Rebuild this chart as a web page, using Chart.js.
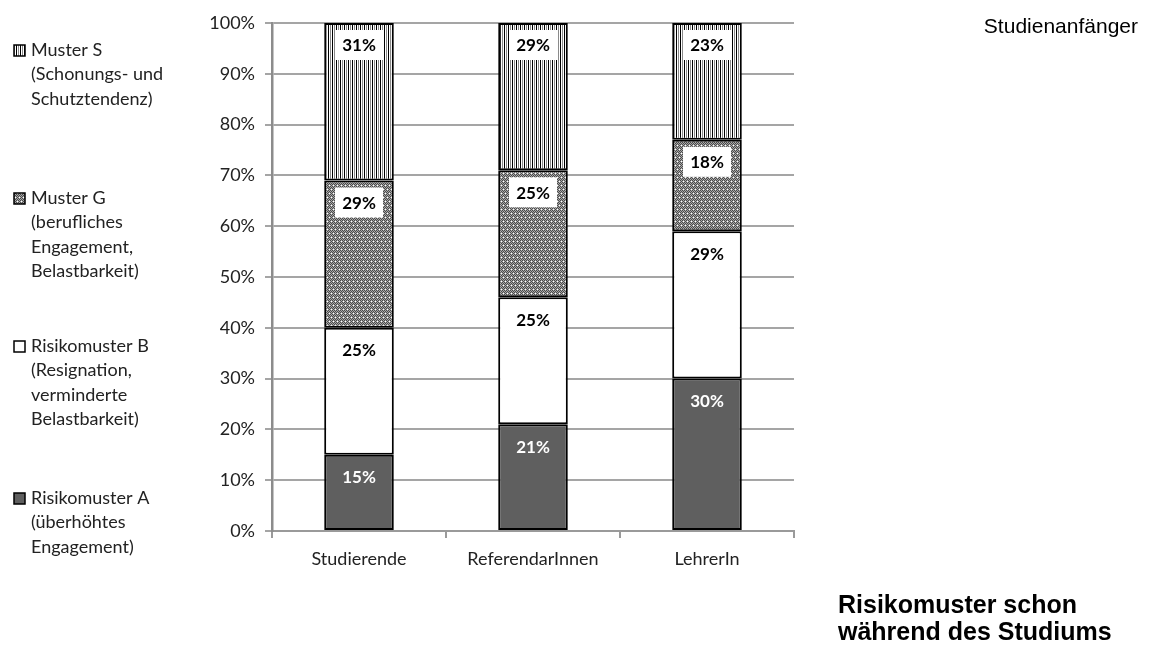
<!DOCTYPE html>
<html lang="de">
<head>
<meta charset="UTF-8">
<title>Risikomuster schon während des Studiums</title>
<script src="https://cdn.jsdelivr.net/npm/chart.js@4"></script>
<style>
    html, body { margin: 0; padding: 0; background: #fff; }
    #wrap { position: relative; width: 1155px; height: 646px; }
    canvas { display: block; }
    .note { position: absolute; font-family: "Liberation Sans", Arial, sans-serif; color: #000; white-space: nowrap; }
    #top { right: 17px; top: 14px; font-size: 21px; line-height: 24px; }
    #bottom { left: 838px; top: 591px; font-size: 25px; line-height: 27px; font-weight: bold; }
</style>
</head>
<body>
<div id="wrap">
    <canvas id="chart" width="1155" height="646"></canvas>
    <div class="note" id="top">Studienanfänger</div>
    <div class="note" id="bottom">Risikomuster schon<br>während des Studiums</div>
</div>

<script>
// Daten
const categories = ['Studierende', 'ReferendarInnen', 'LehrerIn'];
const risikoA = [15, 21, 30];
const risikoB = [25, 25, 29];
const musterG = [29, 25, 18];
const musterS = [31, 29, 23];

const legendA = ['Risikomuster A', '(überhöhtes', 'Engagement)'];
const legendB = ['Risikomuster B', '(Resignation,', 'verminderte', 'Belastbarkeit)'];
const legendG = ['Muster G', '(berufliches', 'Engagement,', 'Belastbarkeit)'];
const legendS = ['Muster S', '(Schonungs- und', 'Schutztendenz)'];

// Muster (Schraffuren) wie im Original
function makeTile(w, h, draw) {
    const c = document.createElement('canvas');
    c.width = w; c.height = h;
    draw(c.getContext('2d'));
    return c;
}
const ctxMain = document.getElementById('chart').getContext('2d');

const stripeTile = makeTile(4, 4, t => {
    t.fillStyle = '#fff'; t.fillRect(0, 0, 4, 4);
    t.fillStyle = '#000'; t.fillRect(0, 0, 1, 4);
    t.fillStyle = '#8a8a8a'; t.fillRect(2, 0, 1, 4);
});
const dotTile = makeTile(8, 8, t => {
    for (let x = 0; x < 8; x++) {
        for (let y = 0; y < 8; y++) {
            t.fillStyle = (x + y) % 2 === 0 ? '#4a4a4a' : '#a8a8a8';
            t.fillRect(x, y, 1, 1);
        }
    }
    // weisse Punkte
    t.fillStyle = '#fff';
    t.fillRect(1, 1, 1, 1);
    t.fillRect(5, 1, 1, 1);
    t.fillRect(3, 5, 1, 1);
    t.fillRect(7, 5, 1, 1);
});
const stripes = ctxMain.createPattern(stripeTile, 'repeat');
const dots = ctxMain.createPattern(dotTile, 'repeat');

// Beschriftung der Segmente (innen oben)
const segmentLabels = {
    id: 'segmentLabels',
    afterDatasetsDraw(chart) {
        const ctx = chart.ctx;
        ctx.save();
        ctx.font = 'bold 17px Lato';
        ctx.textAlign = 'center';
        ctx.textBaseline = 'middle';
        chart.data.datasets.forEach((ds, i) => {
            chart.getDatasetMeta(i).data.forEach((bar, j) => {
                const y = bar.y + 22;
                if (ds.labelBox) {
                    ctx.fillStyle = '#fff';
                    ctx.fillRect(bar.x - 24, y - 15, 48, 30);
                }
                ctx.fillStyle = ds.labelColor;
                ctx.fillText(ds.data[j] + '%', bar.x, y + 1);
            });
        });
        ctx.restore();
    }
};

// Legende links, von oben S, G, B, A
const sideLegend = {
    id: 'sideLegend',
    afterDraw(chart) {
        const ctx = chart.ctx;
        const starts = [50, 198, 346, 498];
        const items = chart.data.datasets.slice().reverse();
        ctx.save();
        ctx.font = '18px Lato';
        ctx.textBaseline = 'middle';
        ctx.textAlign = 'left';
        items.forEach((ds, k) => {
            const y0 = starts[k];
            ctx.fillStyle = ds.backgroundColor;
            ctx.fillRect(14, y0 - 5, 11, 11);
            ctx.strokeStyle = '#000';
            ctx.lineWidth = 1.5;
            ctx.strokeRect(14, y0 - 5, 11, 11);
            ctx.fillStyle = '#222';
            ds.legendLines.forEach((line, n) => {
                ctx.fillText(line, 31, y0 + n * 24.5);
            });
        });
        ctx.restore();
    }
};

Chart.defaults.font.family = 'Lato';
Chart.defaults.color = '#222';

new Chart(ctxMain, {
    type: 'bar',
    data: {
        labels: categories,
        datasets: [
            { label: 'Risikomuster A', data: risikoA, backgroundColor: '#5f5f5f', legendLines: legendA, labelColor: '#fff', labelBox: false },
            { label: 'Risikomuster B', data: risikoB, backgroundColor: '#ffffff', legendLines: legendB, labelColor: '#000', labelBox: false },
            { label: 'Muster G', data: musterG, backgroundColor: dots, legendLines: legendG, labelColor: '#000', labelBox: true },
            { label: 'Muster S', data: musterS, backgroundColor: stripes, legendLines: legendS, labelColor: '#000', labelBox: true }
        ]
    },
    options: {
        responsive: false,
        animation: false,
        layout: { padding: { top: 23, right: 361, left: 0, bottom: 0 } },
        datasets: {
            bar: {
                borderColor: '#000',
                borderWidth: 2,
                borderSkipped: false,
                barPercentage: 0.4,
                categoryPercentage: 1
            }
        },
        plugins: {
            legend: { display: false },
            tooltip: { enabled: false }
        },
        scales: {
            x: {
                stacked: true,
                afterFit(scale) { scale.height = 115; },
                grid: { drawOnChartArea: false, drawTicks: true, tickLength: 7, color: '#9a9a9a', lineWidth: 2 },
                border: { color: '#9a9a9a', width: 2 },
                ticks: { font: { size: 18 }, padding: 10, color: '#222' }
            },
            y: {
                stacked: true,
                min: 0,
                max: 100,
                afterFit(scale) { scale.width = 272; },
                grid: { color: '#a5a5a5', lineWidth: 2, tickLength: 7 },
                border: { color: '#8c8c8c', width: 2.5 },
                ticks: {
                    stepSize: 10,
                    padding: 10,
                    font: { size: 18 },
                    color: '#222',
                    callback: v => v + '%'
                }
            }
        }
    },
    plugins: [segmentLabels, sideLegend]
});
</script>
</body>
</html>
